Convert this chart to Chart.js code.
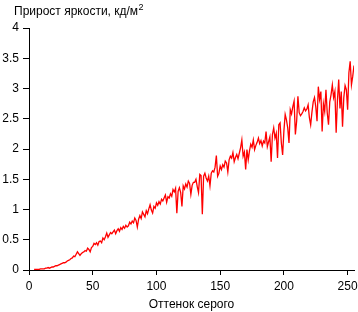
<!DOCTYPE html>
<html>
<head>
<meta charset="utf-8">
<script src="https://cdn.jsdelivr.net/npm/chart.js@4"></script>
<style>
html,body{margin:0;padding:0;background:#fff;}
#wrap{width:358px;height:312px;position:relative;}
</style>
</head>
<body>
<div id="wrap"><canvas id="c" width="358" height="312"></canvas></div>
<script>
const chartTitle = "Прирост яркости, кд/м";
const chartTitleSup = "2";
const xAxisTitle = "Оттенок серого";
const firstShade = 4;
const yTicks = [0, 0.5, 1, 1.5, 2, 2.5, 3, 3.5, 4];
const xTicks = [0, 50, 100, 150, 200, 250];
const increments = [
  0.01,0.01,0.01,0.01,0.01,0.02,
  0.02,0.02,0.02,0.03,0.03,0.04,0.03,0.04,0.05,0.05,
  0.06,0.07,0.07,0.08,0.09,0.10,0.11,0.12,0.12,0.13,
  0.15,0.16,0.17,0.19,0.20,0.23,0.22,0.26,0.30,0.27,
  0.24,0.27,0.29,0.30,0.32,0.31,0.36,0.34,0.30,0.37,
  0.39,0.44,0.42,0.45,0.41,0.47,0.48,0.45,0.53,0.50,
  0.55,0.61,0.54,0.58,0.62,0.60,0.63,0.66,0.60,0.65,
  0.68,0.64,0.70,0.67,0.72,0.69,0.74,0.71,0.73,0.79,
  0.76,0.81,0.78,0.86,0.82,0.71,0.84,0.90,0.85,0.96,
  0.92,0.88,0.98,0.93,1.01,1.08,0.99,0.94,1.05,1.02,
  1.11,1.07,1.13,1.09,1.17,1.14,1.19,1.24,1.12,1.21,
  1.19,1.26,1.22,1.33,1.29,1.35,0.94,1.30,1.36,1.28,
  1.05,1.39,1.34,1.42,1.37,1.47,1.43,1.25,1.40,1.45,
  1.45,1.50,1.38,1.28,1.58,1.56,0.92,1.55,1.60,1.52,
  1.47,1.55,1.39,1.60,1.64,1.62,1.70,1.89,1.55,1.60,
  1.72,1.66,1.74,1.70,1.80,1.77,1.62,1.82,1.88,1.85,
  1.94,1.79,1.86,1.91,1.84,1.93,2.02,2.15,1.88,1.95,
  1.66,1.99,1.82,1.97,2.08,2.03,2.15,1.99,2.06,2.11,
  2.18,2.09,2.14,2.05,2.13,2.10,2.29,2.04,2.12,2.20,
  1.79,2.24,2.35,2.18,2.26,1.85,2.40,2.43,2.10,1.90,
  2.30,2.57,2.48,2.35,2.10,2.65,2.58,2.70,2.79,2.24,
  2.46,2.87,2.60,2.55,2.58,2.62,2.68,2.63,2.66,2.73,
  2.52,2.40,2.61,2.78,2.85,2.70,2.46,3.03,2.82,2.95,
  2.29,2.75,2.62,2.98,2.60,2.40,2.78,2.90,3.06,2.85,
  2.95,2.27,2.80,3.15,2.67,2.95,2.37,2.85,3.05,2.98,
  2.65,3.26,3.45,3.06,3.20,3.38
];
const shades = increments.map((_, i) => firstShade + i);

const FONT = "'Liberation Sans', Arial, sans-serif";

const titlePlugin = {
  id: 'topTitle',
  afterDraw(chart) {
    const ctx = chart.ctx;
    ctx.save();
    ctx.fillStyle = '#000';
    ctx.font = '12px ' + FONT;
    ctx.textBaseline = 'alphabetic';
    ctx.textAlign = 'left';
    ctx.fillText(chartTitle, 14, 15);
    const w = ctx.measureText(chartTitle).width;
    ctx.font = '9px ' + FONT;
    ctx.fillText(chartTitleSup, 14 + w + 0.5, 10);
    ctx.restore();
  }
};

new Chart(document.getElementById('c'), {
  type: 'line',
  data: {
    labels: shades,
    datasets: [{
      data: increments,
      borderColor: '#ff0000',
      borderWidth: 1.3,
      pointRadius: 0,
      tension: 0,
      fill: false
    }]
  },
  options: {
    responsive: false,
    animation: false,
    devicePixelRatio: 1,
    layout: { padding: { top: 28, right: 4, left: 0, bottom: 0 } },
    plugins: { legend: { display: false }, tooltip: { enabled: false } },
    scales: {
      x: {
        type: 'linear',
        min: 0, max: 255,
        afterBuildTicks(scale) { scale.ticks = xTicks.map(v => ({ value: v })); },
        afterFit(scale) { scale.height = 42; scale.paddingRight = 0; scale.paddingLeft = 0; },
        ticks: { includeBounds: false, color: '#000', font: { family: FONT, size: 12 }, padding: 4, maxRotation: 0, callback: v => String(v) },
        grid: { display: true, drawOnChartArea: false, drawTicks: true, tickLength: 5, color: '#000' },
        border: { display: true, color: '#000', width: 1 },
        title: { display: true, text: xAxisTitle, color: '#000', font: { family: FONT, size: 12 }, padding: { top: 0, bottom: 0 } }
      },
      y: {
        min: 0, max: 4,
        afterBuildTicks(scale) { scale.ticks = yTicks.map(v => ({ value: v })); },
        afterFit(scale) { scale.width = 29; },
        ticks: { color: '#000', font: { family: FONT, size: 12 }, padding: 4, callback: v => String(v) },
        grid: { display: true, drawOnChartArea: false, drawTicks: true, tickLength: 6, color: '#000' },
        border: { display: true, color: '#000', width: 1 }
      }
    }
  },
  plugins: [titlePlugin]
});
</script>
</body>
</html>
